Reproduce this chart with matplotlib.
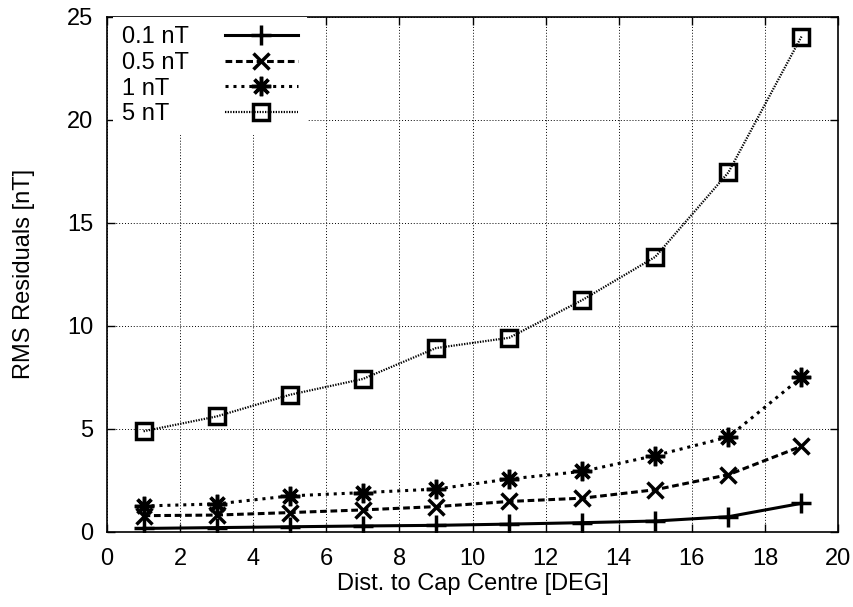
import numpy as np
import matplotlib.pyplot as plt

plt.rcParams['font.family'] = ['Liberation Sans', 'DejaVu Sans']
plt.rcParams['font.size'] = 17

## distances to cap centre [deg]
dist = [1, 3, 5, 7, 9, 11, 13, 15, 17, 19]

## RMS residuals [nT] for each noise level
rms_01 = [0.16, 0.2, 0.24, 0.28, 0.31, 0.37, 0.44, 0.52, 0.73, 1.38]
rms_05 = [0.78, 0.81, 0.93, 1.06, 1.22, 1.47, 1.63, 2.04, 2.77, 4.15]
rms_1 = [1.25, 1.35, 1.74, 1.9, 2.07, 2.56, 2.93, 3.7, 4.6, 7.5]
rms_5 = [4.88, 5.6, 6.65, 7.42, 8.92, 9.42, 11.25, 13.35, 17.45, 24.05]

labels = ['0.1 nT', '0.5 nT', '1 nT', '5 nT']

fig = plt.figure(figsize=(8.54, 6.07), dpi=100)
ax = fig.add_axes([0.1253, 0.124, 0.856, 0.848])

ax.plot(dist, rms_01, color='black', lw=2.2, ls='-', marker='+',
        ms=14, mew=2.5, label=labels[0])
ax.plot(dist, rms_05, color='black', lw=2.2, ls=(0, (2.2, 1.2)), marker='x',
        ms=12, mew=2.5, label=labels[1])
ax.plot(dist, rms_1, color='black', lw=2.2, ls=(0, (1, 1.6)), marker=(8, 2, 0),
        ms=14, mew=2.5, label=labels[2])
ax.plot(dist, rms_5, color='black', lw=1.6, ls=(0, (0.6, 0.6)), marker='s',
        ms=12, mew=2.5, mfc='none', label=labels[3])

ax.set_xlim(0, 20)
ax.set_ylim(0, 25)
ax.set_xticks(np.arange(0, 21, 2))
ax.set_yticks(np.arange(0, 26, 5))
ax.grid(True, color='black', ls=(0, (1, 2)), lw=0.7)
ax.tick_params(direction='in', top=True, right=True, length=6, width=1)
ax.tick_params(axis='x', pad=12)
ax.tick_params(axis='y', pad=10)
for s in ax.spines.values():
    s.set_linewidth(1.2)

ax.set_xlabel('Dist. to Cap Centre [DEG]', labelpad=2)
ax.set_ylabel('RMS Residuals [nT]', labelpad=23)

leg = ax.legend(loc='upper left', bbox_to_anchor=(0.008, 1.0),
                markerfirst=False, frameon=True,
                fancybox=False, edgecolor='none', facecolor='white',
                framealpha=1, handlelength=3.1, handletextpad=1.5,
                labelspacing=0.15, borderaxespad=0.0, borderpad=0.4)

## gnuplot keeps key text left aligned: widen the gap of shorter rows
fig.canvas.draw()
r = fig.canvas.get_renderer()
rows = leg._legend_handle_box.get_children()[0].get_children()
widths = [t.get_window_extent(r).width for t in leg.get_texts()]
wmax = max(widths)
for row, w in zip(rows, widths):
    row.sep += (wmax - w) * 72.0 / fig.dpi

fig.savefig('out.png', dpi=100)
